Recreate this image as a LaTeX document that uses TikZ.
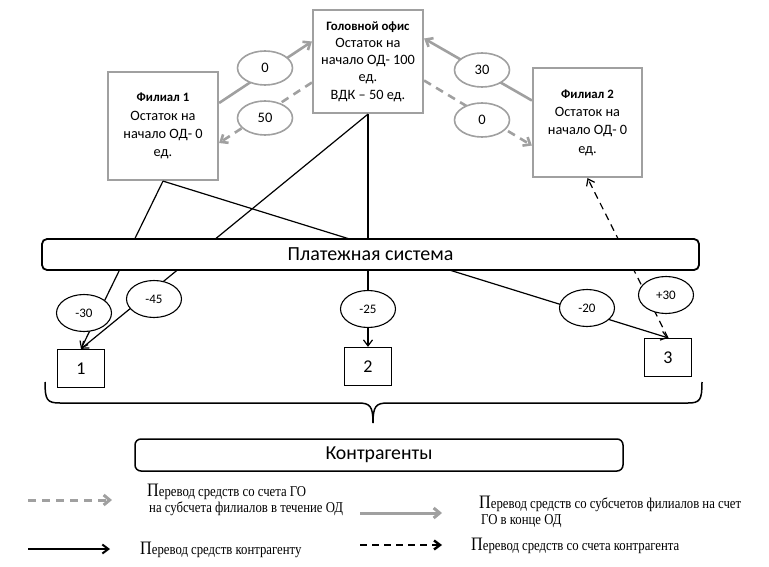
\documentclass[tikz,border=0pt]{standalone}
\usepackage{fontspec}
\setmainfont{Carlito}
\newfontfamily\legendfont[FakeStretch=0.85]{Liberation Serif}
\usetikzlibrary{arrows.meta, positioning, shapes.geometric}
\definecolor{officegray}{RGB}{160,160,160}
\newcommand{\legP}{{\fontsize{19}{19}\selectfont П}}
\newcommand{\officetitle}[1]{{\fontsize{12.8}{17}\selectfont\bfseries #1}}

\begin{document}
\begin{tikzpicture}[x=1pt, y=-1pt,
    office/.style = {draw=officegray, line width=2.2pt, minimum width=110pt, minimum height=108pt, align=center, inner sep=1pt, font=\fontsize{14.3}{18.3}\selectfont},
    agent/.style = {draw, line width=1.3pt, minimum width=47pt, minimum height=38pt, font=\fontsize{18}{20}\selectfont},
    panel/.style = {draw, fill=white, rounded corners=5pt, line width=1.8pt},
    sum/.style = {draw, ellipse, fill=white, line width=1.1pt, minimum width=55pt, minimum height=37pt, inner sep=0pt, font=\fontsize{13}{14}\selectfont},
    graysum/.style = {draw=officegray, ellipse, fill=white, line width=1.6pt, minimum width=55pt, minimum height=34pt, inner sep=0pt, font=\fontsize{14.5}{16}\selectfont},
    toho/.style = {draw=officegray, line width=2.6pt, -{Straight Barb[length=6pt, width=10pt]}},
    tobranch/.style = {toho, dash pattern=on 8pt off 6pt},
    pay/.style = {draw, line width=1.2pt, -{Straight Barb[length=6pt, width=9pt]}},
    payback/.style = {pay, dash pattern=on 7pt off 5pt},
    legend/.style = {anchor=west, align=left, inner sep=0pt, font=\legendfont\fontsize{15}{16}\selectfont}
  ]
  \useasboundingbox (0,0) rectangle (769,567);

  % head office and branches
  \node[office, minimum height=103pt, font=\fontsize{14.3}{17.3}\selectfont] (go) at (368,61.5) {\officetitle{Головной офис}\\Остаток на\\начало ОД- 100\\ед.\\ВДК – 50 ед.};
  \node[office] (f1) at (163,126) {\officetitle{Филиал 1}\\Остаток на\\начало ОД- 0\\ед.};
  \node[office, minimum width=109pt, minimum height=109pt] (f2) at (587.5,122.5) {\officetitle{Филиал 2}\\Остаток на\\начало ОД- 0\\ед.};

  % contractors
  \node[agent] (k1) at (81,368.5) {1};
  \node[agent] (k2) at (368,366.5) {2};
  \node[agent] (k3) at (668,357.5) {3};

  % transfers between head office and branches
  \draw[toho] ([yshift=23pt]f1.east) -- ([yshift=20pt]go.west);
  \draw[tobranch] ([yshift=-21pt]go.west) -- ([yshift=-17pt]f1.east);
  \draw[toho] ([yshift=22pt]f2.west) -- ([yshift=23pt]go.east);
  \draw[tobranch] ([yshift=-19pt]go.east) -- ([yshift=-23pt]f2.west);

  % payments
  \draw[pay] (f1.south) -- (k1.north);
  \draw[pay] (f1.south) -- (k3.north);
  \draw[pay] (go.south) -- (k1.north);
  \draw[pay] (go.south) -- (k2.north);
  \draw[payback] (k3.north) -- (f2.south);

  \node[panel, minimum width=657pt, minimum height=31pt, font=\fontsize{20}{22}\selectfont] (ps) at (370.5,254.5) {Платежная система};

  % amounts
  \node[graysum] (s0a) at (265,68) {0};
  \node[graysum] (s50) at (265,118) {50};
  \node[graysum] (s30) at (482,70) {30};
  \node[graysum] (s0b) at (482,120) {0};
  \node[sum] (m30) at (84,313) {-30};
  \node[sum] (m45) at (154,299) {-45};
  \node[sum] (m25) at (368,309) {-25};
  \node[sum] (m20) at (587,308) {-20};
  \node[sum] (p30) at (666,295) {+30};

  % brace over contractors
  \draw[line width=1.5pt] (45,382) .. controls (45,400) and (47,403) .. (60,403) -- (358,403) .. controls (370,403) and (373,406) .. (373,423);
  \draw[line width=1.5pt] (373,423) .. controls (373,406) and (376,403) .. (388,403) -- (688,403) .. controls (700,403) and (702,400) .. (702,382);
  \node[panel, line width=1.5pt, rounded corners=6pt, minimum width=488pt, minimum height=32pt, font=\fontsize{19.8}{22}\selectfont] (kg) at (379,455) {Контрагенты};

  % legend
  \coordinate (l1a) at (28,500);
  \coordinate (l1b) at (112,500);
  \coordinate (l2a) at (360,513);
  \coordinate (l2b) at (442,513);
  \coordinate (l3a) at (28,549);
  \coordinate (l3b) at (110,549);
  \coordinate (l4a) at (360,545);
  \coordinate (l4b) at (442,545);
  \draw[tobranch, line width=3pt] (l1a) -- (l1b);
  \draw[toho, line width=3pt] (l2a) -- (l2b);
  \draw[pay, line width=2pt] (l3a) -- (l3b);
  \draw[payback, line width=2.4pt] (l4a) -- (l4b);
  \node[legend] (t1) at (147,500) {\legP еревод средств со счета ГО\\\hspace{2pt}на субсчета филиалов в течение ОД};
  \node[legend] (t2) at (479,512) {\legP еревод средств со субсчетов филиалов на счет\\\hspace{2pt}ГО в конце ОД};
  \node[legend] (t3) at (140,550) {\legP еревод средств контрагенту};
  \node[legend] (t4) at (471,546) {\legP еревод средств со счета контрагента};
\end{tikzpicture}
\end{document}
